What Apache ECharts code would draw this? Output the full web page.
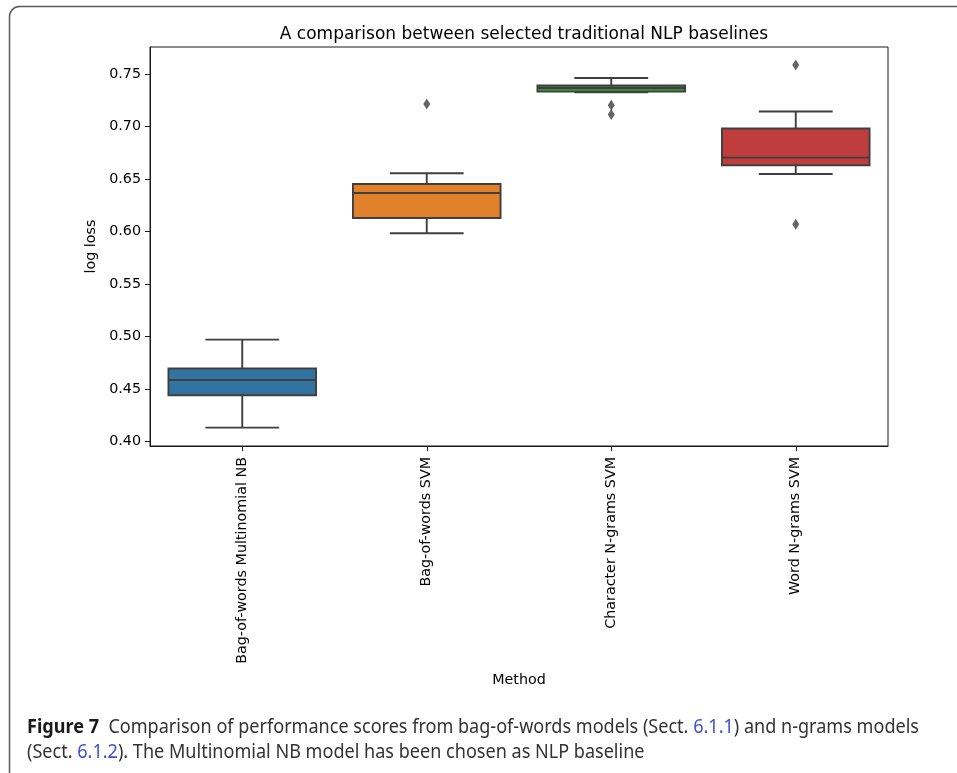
<!DOCTYPE html>
<html>
<head>
<meta charset="utf-8">
<script src="https://cdn.jsdelivr.net/npm/echarts@6/dist/echarts.min.js"></script>
<style>html,body{margin:0;padding:0;background:#fff;}#c{width:957px;height:773px;}</style>
</head>
<body>
<div id="c"></div>
<script>
// ---- data ----
var categories = ['Bag-of-words Multinomial NB', 'Bag-of-words SVM', 'Character N-grams SVM', 'Word N-grams SVM'];
var whiskerLow  = [0.4130, 0.5982, 0.7326, 0.6547];
var q1          = [0.4438, 0.6128, 0.7332, 0.6630];
var median      = [0.4584, 0.6366, 0.7367, 0.6703];
var q3          = [0.4693, 0.6452, 0.7390, 0.6980];
var whiskerHigh = [0.4969, 0.6554, 0.7462, 0.7142];
var outlierCat  = [1, 2, 2, 3, 3];
var outlierVal  = [0.7214, 0.7202, 0.7113, 0.7586, 0.6068];
var yTicks      = [0.40, 0.45, 0.50, 0.55, 0.60, 0.65, 0.70, 0.75];

var titleText = 'A comparison between selected traditional NLP baselines';
var yName = 'log loss';
var xName = 'Method';

// ---- styles ----
var boxColors = ['#3274A1', '#E1812C', '#3A923A', '#C03D3E'];
var lineColor = '#3f3f3f';
var FONT = 'DejaVu Sans';
var FS = 14.3;

var boxData = categories.map(function (c, i) {
  return [i, whiskerLow[i], q1[i], median[i], q3[i], whiskerHigh[i]];
});
var outData = outlierCat.map(function (c, i) { return [c, outlierVal[i]]; });

var chart = echarts.init(document.getElementById('c'), null, {renderer: 'canvas'});

// caption: condensed look via horizontal scaling to the reference width
var capSize = 19.5;
var capFont = capSize + 'px "Noto Sans"';
var mc = document.createElement('canvas').getContext('2d');
mc.font = 'bold ' + capFont;
var wb = mc.measureText('Figure 7').width;
mc.font = capFont;
var wr = mc.measureText('  Comparison of performance scores from bag-of-words models (Sect. 6.1.1) and n-grams models').width;
var capScale = 892 / (wb + wr);

var option = {
  backgroundColor: '#fff',
  animation: false,
  title: {
    text: titleText,
    left: 519,
    top: 21,
    textAlign: 'center',
    textStyle: {fontFamily: FONT, fontSize: 17, fontWeight: 'normal', color: '#000'}
  },
  grid: {
    left: 150, right: 69, top: 47, bottom: 327,
    show: true, borderColor: '#1a1a1a', borderWidth: 1, backgroundColor: 'transparent'
  },
  xAxis: {
    type: 'category',
    data: categories,
    boundaryGap: true,
    name: xName,
    nameLocation: 'middle',
    nameGap: 227,
    nameTextStyle: {fontFamily: FONT, fontSize: FS, color: '#000'},
    axisLine: {show: true, lineStyle: {color: '#1a1a1a', width: 1}},
    axisTick: {show: true, alignWithLabel: true, length: 5, lineStyle: {color: '#1a1a1a', width: 1}},
    axisLabel: {rotate: 90, margin: 11, fontFamily: FONT, fontSize: FS, color: '#000', interval: 0},
    splitLine: {show: false}
  },
  yAxis: {
    type: 'value',
    min: 0.3955,
    max: 0.7757,
    name: yName,
    nameLocation: 'middle',
    nameGap: 51,
    nameTextStyle: {fontFamily: FONT, fontSize: FS, color: '#000'},
    axisLine: {show: true, lineStyle: {color: '#1a1a1a', width: 1}},
    axisTick: {show: true, length: 5, customValues: yTicks, lineStyle: {color: '#1a1a1a', width: 1}},
    axisLabel: {
      customValues: yTicks, margin: 9, fontFamily: FONT, fontSize: FS, color: '#000',
      formatter: function (v) { return v.toFixed(2); }
    },
    splitLine: {show: false}
  },
  series: [
    {
      type: 'custom',
      data: boxData,
      encode: {x: 0, y: [1, 2, 3, 4, 5]},
      clip: false,
      renderItem: function (params, api) {
        var c = api.value(0);
        var pLow = api.coord([c, api.value(1)]);
        var pQ1 = api.coord([c, api.value(2)]);
        var pMed = api.coord([c, api.value(3)]);
        var pQ3 = api.coord([c, api.value(4)]);
        var pHigh = api.coord([c, api.value(5)]);
        var bw = api.size([1, 0])[0];
        var x = pLow[0];
        var half = bw * 0.4, cap = bw * 0.2;
        var ls = {stroke: lineColor, lineWidth: 1.9, fill: null};
        return {
          type: 'group',
          children: [
            {type: 'line', shape: {x1: x, y1: pQ3[1], x2: x, y2: pHigh[1]}, style: ls},
            {type: 'line', shape: {x1: x, y1: pQ1[1], x2: x, y2: pLow[1]}, style: ls},
            {type: 'line', shape: {x1: x - cap, y1: pHigh[1], x2: x + cap, y2: pHigh[1]}, style: ls},
            {type: 'line', shape: {x1: x - cap, y1: pLow[1], x2: x + cap, y2: pLow[1]}, style: ls},
            {type: 'rect', shape: {x: x - half, y: pQ3[1], width: 2 * half, height: pQ1[1] - pQ3[1]},
              style: {fill: boxColors[params.dataIndex], stroke: lineColor, lineWidth: 1.9}},
            {type: 'line', shape: {x1: x - half, y1: pMed[1], x2: x + half, y2: pMed[1]}, style: ls}
          ]
        };
      },
      z: 2
    },
    {
      type: 'scatter',
      data: outData,
      symbol: 'diamond',
      symbolSize: [7, 11],
      itemStyle: {color: lineColor},
      z: 3
    }
  ],
  graphic: [
    {
      type: 'rect',
      shape: {x: 9.5, y: 6.5, width: 1200, height: 1200, r: [10, 0, 0, 0]},
      style: {fill: 'none', stroke: '#5a5a5a', lineWidth: 1.5},
      silent: true
    },
    {
      type: 'text',
      x: 27, y: 715,
      scaleX: capScale,
      style: {
        text: '{b|Figure 7}  Comparison of performance scores from bag-of-words models (Sect. {l|6.1.1}) and n-grams models\n(Sect. {l|6.1.2}). The Multinomial NB model has been chosen as NLP baseline',
        font: capFont,
        fill: '#333',
        lineHeight: 25,
        rich: {
          b: {fontFamily: 'Noto Sans', fontSize: capSize, fontWeight: 'bold', fill: '#1a1a1a', lineHeight: 25},
          l: {fontFamily: 'Noto Sans', fontSize: capSize, fill: '#3b4fd8', lineHeight: 25}
        }
      }
    }
  ]
};
chart.setOption(option);
</script>
</body>
</html>
